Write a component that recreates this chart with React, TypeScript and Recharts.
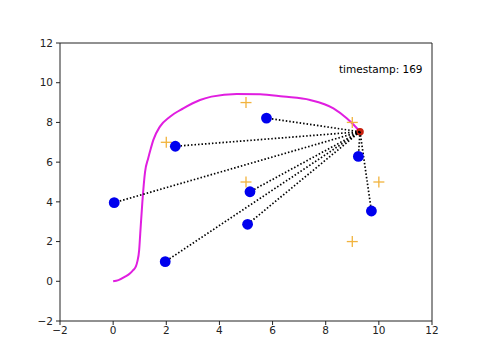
import React from 'react';
import {
  ComposedChart,
  Scatter,
  Line,
  XAxis,
  YAxis,
  ReferenceLine,
} from 'recharts';

// robot path (magenta trail)
const pathX = [0, 0.2, 0.45, 0.64, 0.76, 0.86, 0.91, 0.98, 1.02, 1.1, 1.2, 1.32, 1.42, 1.51, 1.76, 2.14, 2.64, 3.27, 3.7, 4.65, 5.53, 6.4, 7.41, 8.29, 8.79, 9.05, 9.29];
const pathY = [0, 0.06, 0.23, 0.4, 0.57, 0.76, 0.99, 1.58, 2.4, 4.0, 5.5, 6.2, 6.7, 7.11, 7.79, 8.29, 8.71, 9.13, 9.3, 9.43, 9.42, 9.3, 9.13, 8.71, 8.21, 7.88, 7.53];

// true landmarks (plus)
const landmarkX = [2, 5, 5, 9, 9, 10];
const landmarkY = [7, 9, 5, 8, 2, 5];

// estimated landmarks (blue dots)
const estX = [0.04, 1.96, 2.34, 5.15, 5.06, 5.77, 9.23, 9.72];
const estY = [3.96, 0.99, 6.8, 4.51, 2.87, 8.22, 6.29, 3.54];

// current pose
const robot = { x: 9.29, y: 7.53 };

const ticks = [-2, 0, 2, 4, 6, 8, 10, 12];
const stampText = 'timestamp: 169';

const pathData = pathX.map((x, i) => ({ x, y: pathY[i] }));
const landmarkData = landmarkX.map((x, i) => ({ x, y: landmarkY[i] }));
const estData = estX.map((x, i) => ({ x, y: estY[i] }));

const font = 'DejaVu Sans, sans-serif';
const fmt = (v: number) => String(v).replace('-', '\u2212');

const Empty = () => <g />;

const Plus = (props: any) => {
  const { cx, cy } = props;
  return (
    <g stroke="#f2b33d" strokeWidth={1.3}>
      <line x1={cx - 5.5} y1={cy} x2={cx + 5.5} y2={cy} />
      <line x1={cx} y1={cy - 5.5} x2={cx} y2={cy + 5.5} />
    </g>
  );
};

const Dot = (props: any) => <circle cx={props.cx} cy={props.cy} r={5.4} fill="#0000ee" />;
const RobotDot = (props: any) => <circle cx={props.cx} cy={props.cy} r={3.8} fill="#c8200e" />;
const Stamp = (props: any) => (
  <text x={props.cx} y={props.cy} fontSize={10.5} fontFamily={font} fill="#000">
    {stampText}
  </text>
);

export default function App() {
  return (
    <div style={{ position: 'absolute', left: 0, top: 0, background: '#fff' }}>
      <ComposedChart width={480} height={360} margin={{ top: 43, right: 48, left: 0, bottom: 0 }}>
        <XAxis
          type="number"
          dataKey="x"
          domain={[-2, 12]}
          ticks={ticks}
          allowDataOverflow
          height={39}
          tickSize={4}
          tickMargin={2}
          tickFormatter={fmt}
          stroke="#222"
          tick={{ fill: '#222', fontSize: 10.5, fontFamily: font }}
        />
        <YAxis
          type="number"
          dataKey="y"
          domain={[-2, 12]}
          ticks={ticks}
          allowDataOverflow
          width={60}
          tickSize={4}
          tickMargin={3}
          tickFormatter={fmt}
          stroke="#222"
          tick={{ fill: '#222', fontSize: 10.5, fontFamily: font }}
        />
        <ReferenceLine x={12} stroke="#222" />
        <ReferenceLine y={12} stroke="#222" />
        <Scatter data={landmarkData} shape={Plus} isAnimationActive={false} />
        <Line
          data={pathData}
          dataKey="y"
          type="monotone"
          stroke="#e01ee0"
          strokeWidth={2}
          dot={false}
          activeDot={false}
          isAnimationActive={false}
        />
        <Scatter data={[robot]} shape={RobotDot} isAnimationActive={false} />
        {estData.map((p, i) => (
          <Scatter
            key={i}
            data={[robot, p]}
            shape={Empty}
            line={{ stroke: '#000', strokeWidth: 1.7, strokeDasharray: '1.5 2' }}
            lineType="joint"
            isAnimationActive={false}
          />
        ))}
        <Scatter data={estData} shape={Dot} isAnimationActive={false} />
        <Scatter data={[{ x: 8.5, y: 10.5 }]} shape={Stamp} isAnimationActive={false} />
      </ComposedChart>
    </div>
  );
}
